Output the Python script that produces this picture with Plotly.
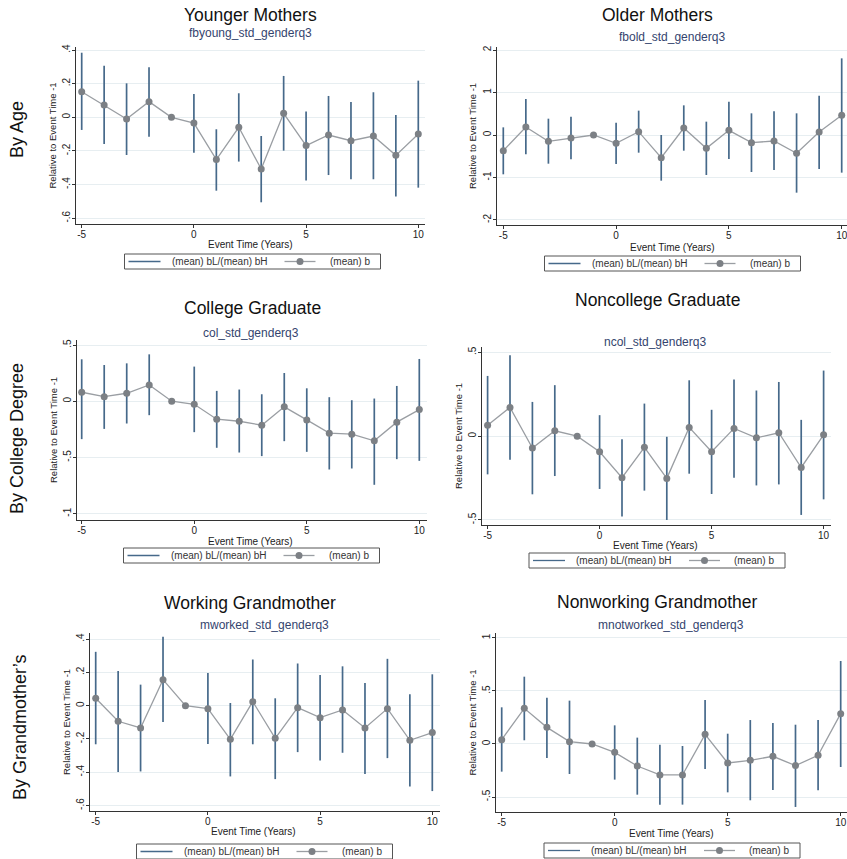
import plotly.graph_objects as go

W, H = 847, 859

# ---------------- data ----------------
event_time = list(range(-5, 11))

young_b  = [0.152, 0.073, -0.010, 0.093, 0, -0.034, -0.251, -0.059, -0.307, 0.024, -0.168, -0.105, -0.139, -0.111, -0.226, -0.099]
young_lo = [-0.075, -0.158, -0.224, -0.115, 0, -0.210, -0.436, -0.263, -0.505, -0.198, -0.376, -0.343, -0.368, -0.368, -0.471, -0.418]
young_hi = [0.384, 0.307, 0.202, 0.297, 0, 0.139, -0.071, 0.143, -0.111, 0.246, 0.034, 0.127, 0.091, 0.149, 0.014, 0.218]

old_b  = [-0.369, 0.188, -0.149, -0.071, 0, -0.196, 0.078, -0.533, 0.165, -0.314, 0.110, -0.180, -0.141, -0.431, 0.071, 0.463]
old_lo = [-0.925, -0.455, -0.675, -0.573, 0, -0.682, -0.416, -1.075, -0.369, -0.941, -0.565, -0.871, -0.824, -1.357, -0.800, -0.886]
old_hi = [0.180, 0.847, 0.384, 0.431, 0, 0.290, 0.573, 0.000, 0.698, 0.314, 0.784, 0.510, 0.557, 0.510, 0.925, 1.804]

col_b  = [0.080, 0.041, 0.071, 0.145, 0, -0.027, -0.160, -0.178, -0.213, -0.050, -0.166, -0.284, -0.293, -0.352, -0.186, -0.074]
col_lo = [-0.337, -0.246, -0.198, -0.124, 0, -0.275, -0.414, -0.456, -0.488, -0.355, -0.450, -0.607, -0.598, -0.743, -0.515, -0.530]
col_hi = [0.373, 0.322, 0.337, 0.417, 0, 0.308, 0.092, 0.104, 0.062, 0.251, 0.115, 0.036, 0.009, 0.024, 0.136, 0.376]

ncol_b  = [0.065, 0.171, -0.071, 0.032, 0, -0.093, -0.248, -0.067, -0.252, 0.052, -0.093, 0.046, -0.010, 0.020, -0.187, 0.008]
ncol_lo = [-0.228, -0.141, -0.347, -0.238, 0, -0.315, -0.480, -0.325, -0.500, -0.224, -0.345, -0.248, -0.294, -0.288, -0.470, -0.377]
ncol_hi = [0.359, 0.482, 0.204, 0.304, 0, 0.125, -0.018, 0.194, -0.004, 0.333, 0.157, 0.337, 0.272, 0.323, 0.097, 0.391]

work_b  = [0.044, -0.094, -0.134, 0.156, 0, -0.018, -0.202, 0.024, -0.196, -0.012, -0.072, -0.026, -0.134, -0.018, -0.208, -0.162]
work_lo = [-0.232, -0.399, -0.395, -0.098, 0, -0.230, -0.425, -0.232, -0.441, -0.279, -0.329, -0.283, -0.411, -0.315, -0.485, -0.513]
work_hi = [0.323, 0.208, 0.126, 0.413, 0, 0.196, 0.016, 0.277, 0.044, 0.253, 0.184, 0.236, 0.136, 0.281, 0.068, 0.188]

nwork_b  = [0.041, 0.336, 0.157, 0.022, 0, -0.079, -0.208, -0.292, -0.292, 0.091, -0.179, -0.154, -0.116, -0.204, -0.107, 0.286]
nwork_lo = [-0.261, 0.035, -0.132, -0.283, 0, -0.336, -0.478, -0.572, -0.572, -0.236, -0.456, -0.531, -0.434, -0.594, -0.437, -0.217]
nwork_hi = [0.346, 0.635, 0.437, 0.409, 0, 0.176, 0.060, -0.006, -0.019, 0.415, 0.097, 0.226, 0.198, 0.182, 0.226, 0.783]

titles = ["Younger Mothers", "Older Mothers", "College Graduate",
          "Noncollege Graduate", "Working Grandmother", "Nonworking Grandmother"]
subtitles = ["fbyoung_std_genderq3", "fbold_std_genderq3", "col_std_genderq3",
             "ncol_std_genderq3", "mworked_std_genderq3", "mnotworked_std_genderq3"]
row_labels = ["By Age", "By College Degree", "By Grandmother\u2019s"]
legend_names = ["(mean) bL/(mean) bH", "(mean) b"]
x_title = "Event Time (Years)"
y_title = "Relative to Event Time -1"

y_tickvals = [[0.4, 0.2, 0, -0.2, -0.4, -0.6],
              [2, 1, 0, -1, -2],
              [0.5, 0, -0.5, -1],
              [0.5, 0, -0.5],
              [0.4, 0.2, 0, -0.2, -0.4, -0.6],
              [1, 0.5, 0, -0.5]]
y_ticktext = [[".4", ".2", "0", "-.2", "-.4", "-.6"],
              ["2", "1", "0", "-1", "-2"],
              [".5", "0", "-.5", "-1"],
              [".5", "0", "-.5"],
              [".4", ".2", "0", "-.2", "-.4", "-.6"],
              ["1", ".5", "0", "-.5"]]
x_tickvals = [-5, 0, 5, 10]

series = [(young_b, young_lo, young_hi), (old_b, old_lo, old_hi),
          (col_b, col_lo, col_hi), (ncol_b, ncol_lo, ncol_hi),
          (work_b, work_lo, work_hi), (nwork_b, nwork_lo, nwork_hi)]

# ---------------- layout geometry (pixels) ----------------
geom = [
    dict(l=76, r=425, t=47, b=224, xr=[-5.254, 10.299], yr=[-0.634, 0.418]),
    dict(l=497, r=847, t=47, b=225, xr=[-5.279, 10.235], yr=[-2.118, 2.071]),
    dict(l=77, r=427, t=340, b=520, xr=[-5.209, 10.342], yr=[-1.056, 0.5445]),
    dict(l=482, r=831, t=347, b=525, xr=[-5.25, 10.33], yr=[-0.530, 0.5315]),
    dict(l=90, r=440, t=633, b=811, xr=[-5.254, 10.343], yr=[-0.6325, 0.436]),
    dict(l=496, r=847, t=633, b=812, xr=[-5.252, 10.279], yr=[-0.6415, 1.047]),
]
title_pos = [(250, 15), (657, 15), (252, 308), (657, 300), (250, 603), (657, 602)]
sub_pos = [(250, 33), (672, 37), (251, 333), (655, 342), (264, 625), (671, 625)]
xtitle_pos = [(250, 244), (672, 247), (251, 541), (655, 545), (253, 831), (671, 833)]
legend_box = [(252.5, 254), (672.5, 256), (251.5, 548), (657, 553), (264.5, 844), (672, 843)]
row_pos = [(17, 130), (17, 439), (20, 728)]
LEG_W, LEG_H = 256, 15

CI_COLOR = "#46698a"
PT_LINE = "#9a9ea3"
PT_MARK = "#7c8085"
FONT = "Liberation Sans, Arial, sans-serif"


def px(x):
    return x / W


def py(y):
    return 1 - y / H


fig = go.Figure()
annotations = []
shapes = []
layout = dict(
    width=W, height=H,
    margin=dict(l=0, r=0, t=0, b=0, autoexpand=False),
    paper_bgcolor="white", plot_bgcolor="white",
    font=dict(family=FONT, color="#222"),
    showlegend=False,
)


def ann(text, x, y, size, color="#222", angle=0, xanchor="center"):
    annotations.append(dict(text=text, x=px(x), y=py(y), xref="paper", yref="paper",
                            showarrow=False, textangle=angle, xanchor=xanchor,
                            yanchor="middle", font=dict(size=size, color=color)))


for i in range(6):
    k = i + 1
    g = geom[i]
    b, lo, hi = series[i]
    xa = "x" if k == 1 else f"x{k}"
    ya = "y" if k == 1 else f"y{k}"

    seg_x, seg_y = [], []
    for t, l_, h_ in zip(event_time, lo, hi):
        seg_x += [t, t, None]
        seg_y += [l_, h_, None]

    fig.add_trace(go.Scatter(
        x=seg_x, y=seg_y, mode="lines", xaxis=xa, yaxis=ya,
        line=dict(color=CI_COLOR, width=1.7),
        name=legend_names[0], hoverinfo="skip"))
    fig.add_trace(go.Scatter(
        x=event_time, y=b, mode="lines+markers", xaxis=xa, yaxis=ya,
        line=dict(color=PT_LINE, width=1.3),
        marker=dict(color=PT_MARK, size=7),
        name=legend_names[1]))

    layout["xaxis" if k == 1 else f"xaxis{k}"] = dict(
        domain=[px(g["l"]), px(g["r"])], range=g["xr"], anchor=ya,
        tickvals=x_tickvals, ticktext=[str(v) for v in x_tickvals],
        ticks="outside", ticklen=3, tickcolor="#333", tickwidth=1,
        ticklabelstandoff=-2, ticklabeloverflow="allow",
        showline=True, linecolor="#333", linewidth=1,
        showgrid=False, zeroline=False,
        tickfont=dict(size=10, color="#222"),
    )
    layout["yaxis" if k == 1 else f"yaxis{k}"] = dict(
        domain=[py(g["b"]), py(g["t"])], range=g["yr"], anchor=xa,
        tickvals=y_tickvals[i], ticktext=y_ticktext[i], tickangle=-90,
        ticks="outside", ticklen=3, tickcolor="#333", tickwidth=1,
        ticklabelstandoff=-2, ticklabeloverflow="allow",
        showline=True, linecolor="#333", linewidth=1,
        showgrid=True, gridcolor="#e7eef1", gridwidth=1, zeroline=False,
        tickfont=dict(size=10, color="#222"),
    )

    ann(titles[i], *title_pos[i], size=17.5, color="#111")
    ann(subtitles[i], *sub_pos[i], size=12, color="#34446e")
    ann(x_title, *xtitle_pos[i], size=10)
    ann(y_title, g["l"] - 24, (g["t"] + g["b"]) / 2, size=9.5, angle=-90)

    # legend box drawn below each panel
    cx, top = legend_box[i]
    x0 = cx - LEG_W / 2
    ym = top + LEG_H / 2
    shapes.append(dict(type="rect", xref="paper", yref="paper",
                       x0=px(x0), x1=px(x0 + LEG_W), y0=py(top + LEG_H), y1=py(top),
                       line=dict(color="#555", width=1), fillcolor="white"))
    shapes.append(dict(type="line", xref="paper", yref="paper",
                       x0=px(x0 + 4), x1=px(x0 + 36), y0=py(ym), y1=py(ym),
                       line=dict(color=CI_COLOR, width=1.3)))
    ann(legend_names[0], x0 + 45, ym, size=10, color="#333", xanchor="left")
    shapes.append(dict(type="line", xref="paper", yref="paper",
                       x0=px(x0 + 160), x1=px(x0 + 191), y0=py(ym), y1=py(ym),
                       line=dict(color=PT_LINE, width=1.3)))
    shapes.append(dict(type="circle", xref="paper", yref="paper",
                       x0=px(x0 + 172), x1=px(x0 + 179), y0=py(ym + 3.5), y1=py(ym - 3.5),
                       line=dict(color=PT_MARK, width=0), fillcolor=PT_MARK))
    ann(legend_names[1], x0 + 203, ym, size=10, color="#333", xanchor="left")

for lab, (x, y) in zip(row_labels, row_pos):
    ann(lab, x, y, size=18, color="#111", angle=-90)

layout["annotations"] = annotations
layout["shapes"] = shapes
fig.update_layout(**layout)
fig.write_html("out.html")
